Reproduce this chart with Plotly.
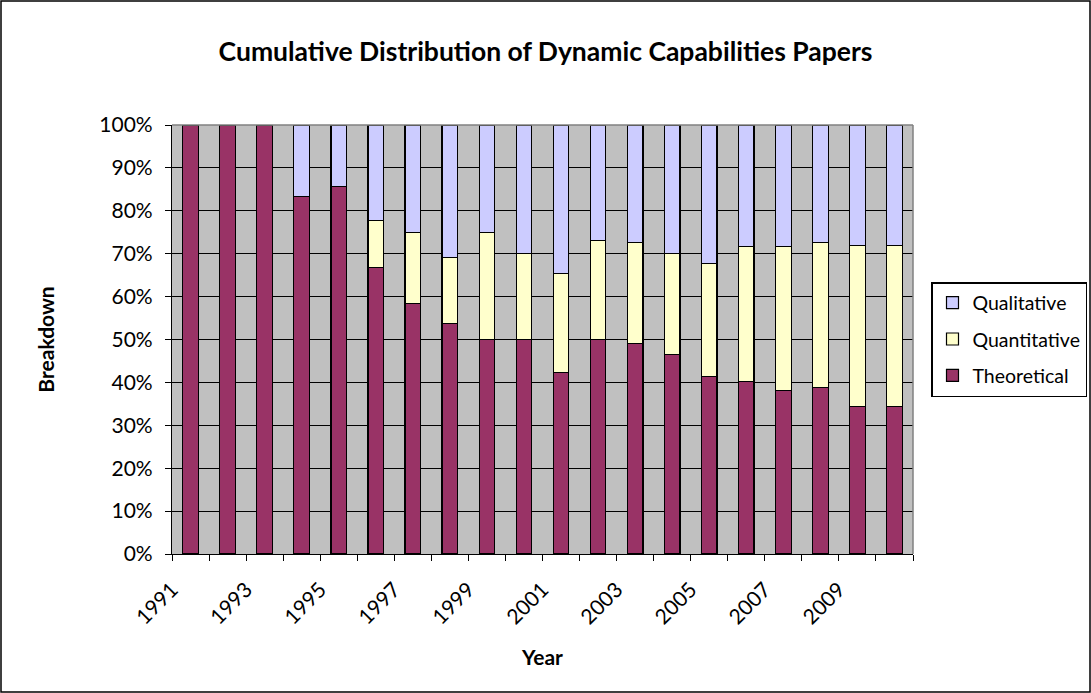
import plotly.graph_objects as go

years = list(range(1991, 2011))
theoretical = [100, 100, 100, 83.3, 85.7, 66.7, 58.3, 53.8, 50.0, 50.0,
               42.3, 50.0, 49.0, 46.5, 41.4, 40.2, 38.1, 38.9, 34.3, 34.3]
quant_cum = [100, 100, 100, 83.3, 85.7, 77.8, 75.0, 69.2, 75.0, 70.0,
             65.3, 73.1, 72.7, 70.0, 67.8, 71.6, 71.6, 72.7, 71.9, 71.9]
quantitative = [round(q - t, 1) for q, t in zip(quant_cum, theoretical)]
qualitative = [round(100 - q, 1) for q in quant_cum]

tick_vals = [y - 0.5 for y in years] + [years[-1] + 0.5]
tick_text = [str(y) if (y - years[0]) % 2 == 0 else "" for y in years] + [""]

FONT = "Lato, Calibri, Carlito, sans-serif"
line = dict(color="black", width=1.2)

fig = go.Figure()
fig.add_trace(go.Bar(x=years, y=theoretical, name="Theoretical", legendgroup="t",
                     legendrank=3, marker=dict(color="#993366", line=line)))
fig.add_trace(go.Bar(x=years, y=quantitative, name="Quantitative", legendgroup="q",
                     legendrank=2, marker=dict(color="#FFFFCC", line=line)))
fig.add_trace(go.Bar(x=years, y=qualitative, name="Qualitative", legendgroup="l",
                     legendrank=1, marker=dict(color="#CCCCFF", line=line)))

fig.update_layout(
    width=1091, height=693,
    barmode="stack", bargap=0.58,
    paper_bgcolor="white", plot_bgcolor="#C0C0C0",
    margin=dict(l=172, r=178, t=125, b=139, autoexpand=False),
    font=dict(family=FONT, size=21, color="black"),
    title=dict(text="<b>Cumulative Distribution of Dynamic Capabilities Papers</b>",
               x=0.5, xref="container", xanchor="center",
               y=1 - 52 / 693, yref="container", yanchor="middle",
               font=dict(size=26.5, family=FONT, color="black")),
    legend=dict(x=(931 - 172) / 741, xanchor="left", y=(554 - 282) / 429, yanchor="top",
                bordercolor="black", borderwidth=1.5, bgcolor="white",
                traceorder="grouped", tracegroupgap=8,
                font=dict(size=19.5, family=FONT)),
    xaxis=dict(range=[years[0] - 0.5, years[-1] + 0.5], tickmode="array",
               tickvals=tick_vals, ticktext=tick_text, tickangle=-45,
               ticks="outside", ticklen=6, tickcolor="black", tickwidth=1,
               showline=True, linecolor="black", linewidth=1.2, showgrid=False,
               zeroline=False, ticklabelstandoff=8,
               tickfont=dict(size=21, family=FONT),
               title=dict(text="<b>Year</b>", font=dict(size=21, family=FONT), standoff=22)),
    yaxis=dict(range=[0, 100], dtick=10, ticksuffix="%",
               ticks="outside", ticklen=6, tickcolor="black", tickwidth=1,
               showline=True, linecolor="black", linewidth=1.2,
               showgrid=True, gridcolor="black", gridwidth=1, zeroline=False,
               ticklabelstandoff=8, tickfont=dict(size=21, family=FONT),
               title=dict(text="<b>Breakdown</b>", font=dict(size=21, family=FONT), standoff=38)),
    shapes=[
        dict(type="line", xref="paper", yref="paper", x0=0, x1=1, y0=1, y1=1,
             line=dict(color="#808080", width=1.5)),
        dict(type="line", xref="paper", yref="paper", x0=1, x1=1, y0=0, y1=1,
             line=dict(color="#808080", width=1.5)),
        dict(type="rect", xref="paper", yref="paper",
             x0=-171 / 741, x1=(1090 - 172) / 741,
             y0=-(692 - 554) / 429, y1=1 + (125 - 1) / 429,
             line=dict(color="black", width=1.5), fillcolor="rgba(0,0,0,0)"),
    ],
)

fig.write_html("out.html")
